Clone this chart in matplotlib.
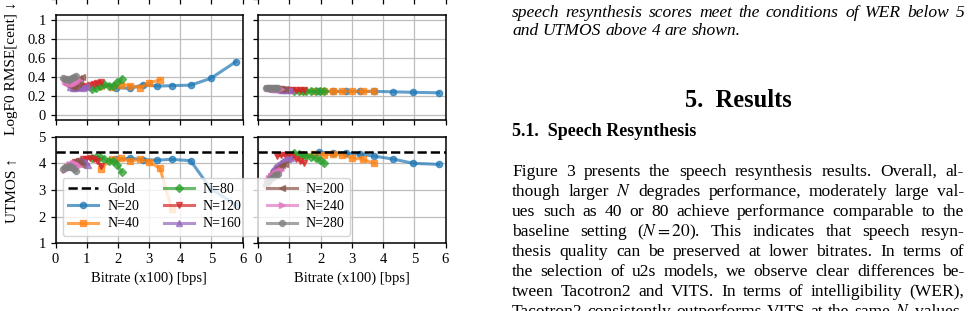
import numpy as np
import matplotlib.pyplot as plt

plt.rcParams['font.family'] = ['Liberation Serif', 'DejaVu Serif']
plt.rcParams['mathtext.fontset'] = 'stix'

# ---- data ----
n_values = [20, 40, 80, 120, 160, 200, 240, 280]
markers = ['o', 's', 'D', 'v', '^', '<', '>', '8']
colors = ['tab:blue', 'tab:orange', 'tab:green', 'tab:red',
          'tab:purple', 'tab:brown', 'tab:pink', 'tab:gray']

bitrate = [
    [1.94, 2.39, 2.81, 3.26, 3.72, 4.33, 4.97, 5.78],
    [1.45, 1.80, 2.10, 2.40, 2.70, 3.00, 3.35, 3.72],
    [1.16, 1.30, 1.43, 1.55, 1.70, 1.85, 1.98, 2.12],
    [0.62, 0.75, 0.87, 0.98, 1.10, 1.22, 1.34, 1.46],
    [0.45, 0.55, 0.63, 0.72, 0.80, 0.88, 0.96, 1.05],
    [0.35, 0.42, 0.50, 0.57, 0.64, 0.71, 0.78, 0.85],
    [0.30, 0.36, 0.42, 0.48, 0.55, 0.61, 0.67, 0.74],
    [0.25, 0.31, 0.36, 0.42, 0.48, 0.53, 0.59, 0.65],
]
# Tacotron2 (left column)
f0_taco = [
    [0.29, 0.28, 0.32, 0.305, 0.31, 0.315, 0.385, 0.56],
    [0.31, 0.30, 0.32, 0.31, 0.29, 0.34, 0.37, np.nan],
    [0.27, 0.29, 0.305, 0.33, 0.31, 0.31, 0.35, 0.375],
    [0.30, 0.29, 0.31, 0.30, 0.32, 0.33, 0.34, 0.35],
    [0.30, 0.29, 0.29, 0.30, 0.30, 0.29, 0.30, 0.31],
    [0.33, 0.32, 0.31, 0.30, 0.31, 0.33, 0.36, 0.40],
    [0.36, 0.35, 0.34, 0.33, 0.33, 0.34, 0.35, 0.37],
    [0.39, 0.38, 0.38, 0.37, 0.38, 0.39, 0.40, 0.41],
]
utmos_taco = [
    [4.15, 4.19, 4.14, 4.12, 4.15, 4.10, 3.05, 2.45],
    [3.80, 4.16, 4.19, 4.08, 4.15, 4.06, 3.81, 2.30],
    [4.20, 4.23, 4.22, 4.15, 4.10, 4.09, 3.95, 3.68],
    [4.05, 4.10, 4.15, 4.18, 4.20, 4.18, 4.10, 3.90],
    [3.90, 4.00, 4.05, 4.10, 4.12, 4.10, 4.05, 3.95],
    [3.85, 3.95, 4.00, 4.05, 4.08, 4.10, 4.05, 3.95],
    [3.75, 3.85, 3.92, 3.97, 4.00, 4.00, 3.97, 3.90],
    [3.80, 3.85, 3.88, 3.90, 3.88, 3.85, 3.80, 3.72],
]
# VITS (right column)
f0_vits = [
    [0.25, 0.25, 0.25, 0.25, 0.25, 0.245, 0.24, 0.235],
    [0.255, 0.25, 0.25, 0.25, 0.25, 0.25, 0.25, 0.25],
    [0.255, 0.25, 0.255, 0.25, 0.25, 0.25, 0.25, 0.25],
    [0.27, 0.27, 0.265, 0.265, 0.26, 0.26, 0.26, 0.26],
    [0.275, 0.27, 0.27, 0.265, 0.265, 0.26, 0.26, 0.26],
    [0.28, 0.28, 0.275, 0.275, 0.27, 0.27, 0.27, 0.27],
    [0.285, 0.28, 0.28, 0.28, 0.275, 0.275, 0.275, 0.275],
    [0.29, 0.29, 0.285, 0.285, 0.285, 0.28, 0.28, 0.28],
]
utmos_vits = [
    [4.41, 4.40, 4.38, 4.34, 4.27, 4.16, 4.00, 3.96],
    [4.30, 4.35, 4.31, 4.34, 4.30, 4.21, 4.15, 4.00],
    [4.38, 4.35, 4.31, 4.28, 4.25, 4.20, 4.12, 4.00],
    [4.28, 4.30, 4.30, 4.28, 4.24, 4.18, 4.10, 4.02],
    [3.72, 3.85, 3.95, 4.03, 4.10, 4.15, 4.18, 4.20],
    [3.50, 3.60, 3.68, 3.75, 3.82, 3.88, 3.93, 3.96],
    [3.35, 3.45, 3.52, 3.58, 3.64, 3.68, 3.72, 3.75],
    [3.20, 3.30, 3.38, 3.44, 3.50, 3.55, 3.58, 3.60],
]
gold_utmos = 4.42

caption = ["speech resynthesis scores meet the conditions of WER below 5",
           "and UTMOS above 4 are shown."]
body = [
    "Figure 3 presents the speech resynthesis results.  Overall, al-",
    "though larger $N$ degrades performance, moderately large val-",
    "ues such as 40 or 80 achieve performance comparable to the",
    "baseline setting ($N=20$).  This indicates that speech resyn-",
    "thesis quality can be preserved at lower bitrates.  In terms of",
    "the selection of u2s models, we observe clear differences be-",
    "tween Tacotron2 and VITS. In terms of intelligibility (WER),",
    "Tacotron2 consistently outperforms VITS at the same $N$ values.",
]

W, H = 973, 311
fig = plt.figure(figsize=(W / 100, H / 100), dpi=100)
renderer = fig.canvas.get_renderer()
FS = 10.5


def px_axes(x0, y0, x1, y1):
    return fig.add_axes([x0 / W, 1 - y1 / H, (x1 - x0) / W, (y1 - y0) / H])


def style(ax):
    ax.grid(True, color='#bdbdbd', lw=0.9)
    ax.set_axisbelow(True)
    for s in ax.spines.values():
        s.set_linewidth(1.1)
    ax.tick_params(labelsize=FS, length=3.5, width=0.9)
    ax.set_xlim(0, 6)
    ax.set_xticks(range(7))


cols = [(55.5, 242.7), (258, 445.5)]
top_axes, f0_axes, ut_axes = [], [], []
for x0, x1 in cols:
    # bottom edge of the row above (only its ticks reach into the picture)
    t = px_axes(x0, -110, x1, -1)
    style(t)
    t.tick_params(labelbottom=False, labelleft=False)
    top_axes.append(t)
    a = px_axes(x0, 15, x1, 120)
    style(a)
    a.set_ylim(-0.05, 1.05)
    a.set_yticks([0, 0.2, 0.4, 0.6, 0.8, 1.0])
    a.set_yticklabels(['0', '0.2', '0.4', '0.6', '0.8', '1'])
    a.tick_params(labelbottom=False)
    f0_axes.append(a)
    b = px_axes(x0, 136.7, x1, 243.3)
    style(b)
    b.set_ylim(1, 5)
    b.set_yticks([1, 2, 3, 4, 5])
    b.set_xlabel('Bitrate (x100) [bps]', fontsize=FS, labelpad=4)
    ut_axes.append(b)

f0_axes[1].tick_params(labelleft=False)
ut_axes[1].tick_params(labelleft=False)

for col, (f0, ut) in enumerate([(f0_taco, utmos_taco), (f0_vits, utmos_vits)]):
    ut_axes[col].axhline(gold_utmos, color='black', ls='--', lw=1.8,
                         label='Gold', zorder=3)
    for i, n in enumerate(n_values):
        kw = dict(color=colors[i], marker=markers[i], ms=4.5, lw=2.2,
                  alpha=0.7, label=f'N={n}')
        f0_axes[col].plot(bitrate[i], f0[i], **kw)
        ut_axes[col].plot(bitrate[i], ut[i], **kw)

handles, labels = ut_axes[0].get_legend_handles_labels()
leg = fig.legend(handles, labels, ncol=3, loc='lower left', fontsize=10,
                 bbox_to_anchor=(62.7 / W, 1 - 236 / H), borderaxespad=0,
                 handlelength=2.15, handletextpad=0.65,
                 columnspacing=1.8, labelspacing=0.3,
                 framealpha=0.8, edgecolor='#cccccc')

fig.text(12 / W, 1 - 68 / H, 'LogF0 RMSE[cent] ↓', rotation=90,
         ha='center', va='center', fontsize=11)
fig.text(12 / W, 1 - 191 / H, 'UTMOS ↑', rotation=90,
         ha='center', va='center', fontsize=11)

# ---- paper text on the right ----
X0, X1 = 512, 964


def fit_size(s, width, **kw):
    t = fig.text(0, 0, s, fontsize=10, **kw)
    w = t.get_window_extent(renderer).width
    t.remove()
    return 10 * width / w


def put_line(line, y, justify=True, **kw):
    words = [w for w in line.split(' ') if w != '']
    ts = [fig.text(0, 1 - y / H, w, va='baseline', **kw) for w in words]
    ws = [t.get_window_extent(renderer).width for t in ts]
    if justify and len(ws) > 1:
        gap = (X1 - X0 - sum(ws)) / (len(ws) - 1)
    else:
        gap = 0.25 * kw['fontsize'] * 100 / 72
    x = X0
    for t, w in zip(ts, ws):
        t.set_x(x / W)
        x += w + gap


body_fs = fit_size(caption[1], 229, style='italic')
put_line(caption[0], 17, fontsize=body_fs, style='italic')
put_line(caption[1], 35, justify=False, fontsize=body_fs, style='italic')
h1_fs = fit_size('5.  Results', 107, fontweight='bold')
fig.text((X0 + X1) / 2 / W, 1 - 107 / H, '5.  Results', ha='center',
         va='baseline', fontsize=h1_fs, fontweight='bold')
h2_fs = fit_size('5.1.  Speech Resynthesis', 185, fontweight='bold')
fig.text(X0 / W, 1 - 136 / H, '5.1.  Speech Resynthesis', va='baseline',
         fontsize=h2_fs, fontweight='bold')
for k, line in enumerate(body):
    put_line(line, 176 + 20 * k, fontsize=body_fs)

fig.savefig('out.png', dpi=100)
